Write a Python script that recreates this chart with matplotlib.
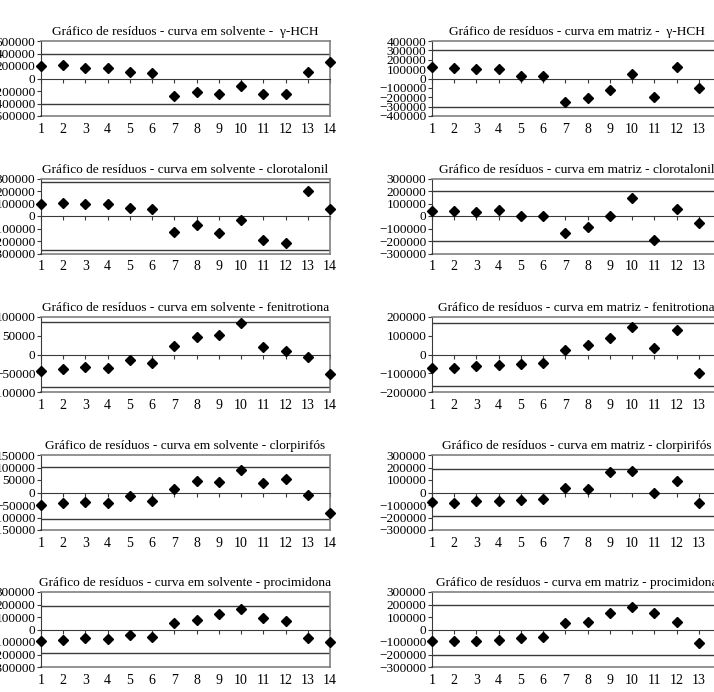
import matplotlib.pyplot as plt
from matplotlib.ticker import MultipleLocator, FuncFormatter

W, H = 714, 692

plt.rcParams["font.family"] = ["Liberation Serif", "DejaVu Serif"]

runs = list(range(1, 15))

# residues; right column is cut at run 13 on the page
hch_solv   = [195000, 211000, 168000, 168000, 97000, 86000, -281000, -216000,
              -243000, -119000, -243000, -254000, 108000, 259000]
hch_matr   = [122000, 115000, 104000, 104000, 28000, 24000, -250000, -205000,
              -118000, 45000, -195000, 118000, -101000]
clor_solv  = [99500, 105000, 99500, 94000, 67000, 54000, -124000, -75000,
              -137000, -32000, -191000, -215000, 204000, 56000]
clor_matr  = [40000, 40000, 35000, 46000, 3000, 3000, -132000, -89000,
              -3000, 143000, -191000, 59000, -59000]
feni_solv  = [-43000, -39500, -32000, -36000, -13500, -23000, 22000, 48000,
              51000, 83000, 21000, 10000, -6000, -52000]
feni_matr  = [-70000, -70000, -63000, -57000, -50000, -45000, 25000, 50000,
              88000, 147000, 36000, 131000, -99000]
clorp_solv = [-49000, -43000, -37000, -40000, -13000, -33000, 16000, 48000,
              44000, 92000, 39000, 53000, -11000, -80000]
clorp_matr = [-75000, -83000, -65000, -65000, -59000, -51000, 35000, 27000,
              167000, 175000, -3000, 94000, -83000]
proc_solv  = [-91000, -83000, -70000, -78000, -46000, -56000, 51000, 80000,
              123000, 166000, 94000, 70000, -64000, -99000]
proc_matr  = [-94000, -94000, -88000, -80000, -64000, -56000, 51000, 62000,
              134000, 177000, 129000, 62000, -104000]

titles = [
    "Gráfico de resíduos - curva em solvente -  γ-HCH",
    "Gráfico de resíduos - curva em matriz -  γ-HCH",
    "Gráfico de resíduos - curva em solvente - clorotalonil",
    "Gráfico de resíduos - curva em matriz - clorotalonil",
    "Gráfico de resíduos - curva em solvente - fenitrotiona",
    "Gráfico de resíduos - curva em matriz - fenitrotiona",
    "Gráfico de resíduos - curva em solvente - clorpirifós",
    "Gráfico de resíduos - curva em matriz - clorpirifós",
    "Gráfico de resíduos - curva em solvente - procimidona",
    "Gráfico de resíduos - curva em matriz - procimidona",
]
series = [hch_solv, hch_matr, clor_solv, clor_matr, feni_solv, feni_matr,
          clorp_solv, clorp_matr, proc_solv, proc_matr]
y_max  = [600000, 400000, 300000, 300000, 100000, 200000, 150000, 300000, 300000, 300000]
y_step = [200000, 100000, 100000, 100000, 50000, 100000, 50000, 100000, 100000, 100000]
y_grid = [400000, 305000, 270000, 200000, 86000, 168000, 104000, 190000, 190000, 200000]

# panel placement in pixels
col_left = [41, 432]
row_top  = [41, 178.5, 317, 455, 592]
ax_w, ax_h = 289, 75

fmt = FuncFormatter(lambda v, p: f"{v:.0f}".replace("-", "\u2212"))
frame = "#808080"
dark = "#3a3a3a"

fig = plt.figure(figsize=(W / 100, H / 100), dpi=100)

for i, (vals, title) in enumerate(zip(series, titles)):
    r, c = divmod(i, 2)
    ax = fig.add_axes([col_left[c] / W, 1 - (row_top[r] + ax_h) / H, ax_w / W, ax_h / H])

    ax.plot(runs[:len(vals)], vals, ls="none", marker="D", ms=5.2,
            color="black", clip_on=False, zorder=5)

    ax.set_xlim(1, 14)
    ax.set_ylim(-y_max[i], y_max[i])
    ax.axhline(y_grid[i], color=dark, lw=1)
    ax.axhline(-y_grid[i], color=dark, lw=1)

    # category axis crosses at zero, labels stay under the frame
    ax.spines["bottom"].set_position(("data", 0))
    ax.spines["bottom"].set_color(dark)
    ax.xaxis.set_major_locator(MultipleLocator(1))
    ax.tick_params(axis="x", direction="out", length=3, color=dark, labelbottom=False)

    sec = ax.secondary_xaxis(0)
    sec.xaxis.set_major_locator(MultipleLocator(1))
    sec.tick_params(length=0, pad=5, labelsize=10)
    sec.spines["bottom"].set_color(frame)
    sec.spines["bottom"].set_linewidth(1.2)

    ax.yaxis.set_major_locator(MultipleLocator(y_step[i]))
    ax.yaxis.set_major_formatter(fmt)
    ax.tick_params(axis="y", direction="out", length=3, color=dark, pad=1,
                   labelsize=9.5)
    ax.spines["left"].set_color(dark)
    for s in ("top", "right"):
        ax.spines[s].set_color(frame)
        ax.spines[s].set_linewidth(1.2)

    ax.set_title(title, fontsize=9.6, pad=4)

fig.savefig("out.png", dpi=100)
